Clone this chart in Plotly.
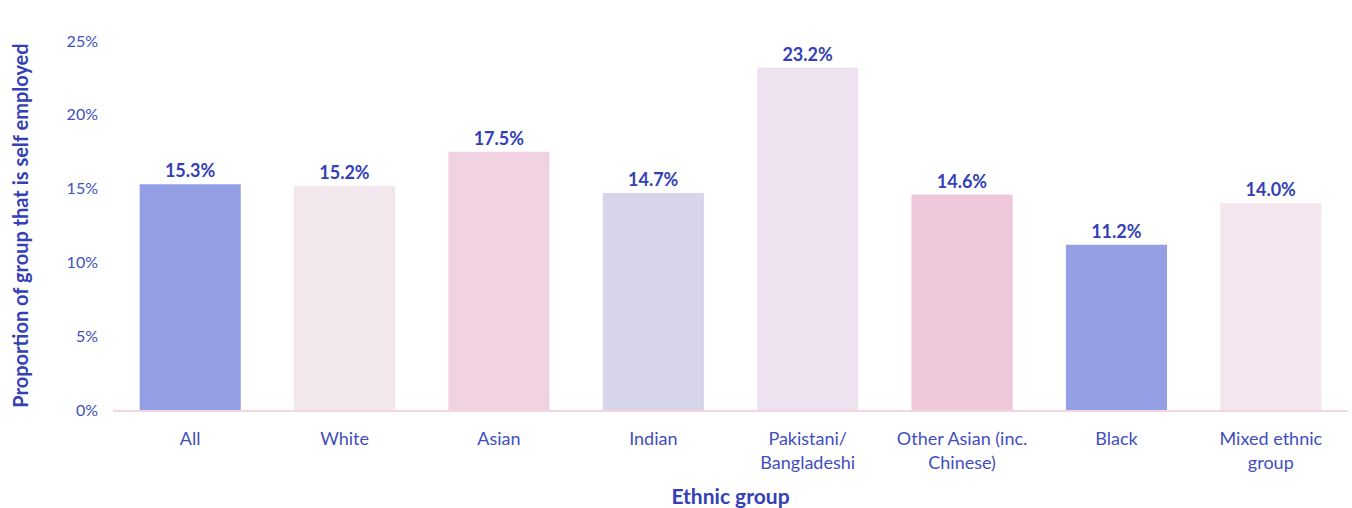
import plotly.graph_objects as go

categories = ["All", "White", "Asian", "Indian", "Pakistani/<br>Bangladeshi",
              "Other Asian (inc.<br>Chinese)", "Black", "Mixed ethnic<br>group"]
values = [0.153, 0.152, 0.175, 0.147, 0.232, 0.146, 0.112, 0.140]
labels = ["15.3%", "15.2%", "17.5%", "14.7%", "23.2%", "14.6%", "11.2%", "14.0%"]
colors = ["#959FE6", "#F3E7EE", "#F0D2E2", "#D6D5EA", "#EEE2F0", "#EEC7DB", "#959FE6", "#F4E6EE"]

FONT = "Lato, Open Sans, sans-serif"
TEXT = "#3340B6"
TICK = "#3F4EC0"

fig = go.Figure(go.Bar(
    x=categories, y=values, text=labels, textposition="outside",
    marker=dict(color=colors, line=dict(width=0)),
    textfont=dict(family=FONT, size=18, color=TEXT, weight="bold"),
    cliponaxis=False,
))

fig.update_layout(
    width=1352, height=508,
    margin=dict(l=113, r=4, t=41, b=98),
    plot_bgcolor="white", paper_bgcolor="white",
    bargap=0.345, showlegend=False,
    font=dict(family=FONT),
)
fig.update_xaxes(
    showline=True, linecolor="#F2D6E2", linewidth=1.5,
    tickfont=dict(family=FONT, size=18, color=TICK),
    ticklabelstandoff=12,
    title=dict(text="Ethnic group", font=dict(family=FONT, size=21, color=TEXT, weight="bold"), standoff=20),
    ticks="", automargin=False,
)
fig.update_yaxes(
    range=[0, 0.25], tickvals=[0, 0.05, 0.10, 0.15, 0.20, 0.25],
    ticktext=["0%", "5%", "10%", "15%", "20%", "25%"],
    showgrid=False, zeroline=False, showline=False,
    tickfont=dict(family=FONT, size=16, color=TICK),
    ticklabelstandoff=14,
    title=dict(text="Proportion of group that is self employed",
               font=dict(family=FONT, size=20, color=TEXT, weight="bold"), standoff=32),
    automargin=False,
)

fig.write_html("out.html")
